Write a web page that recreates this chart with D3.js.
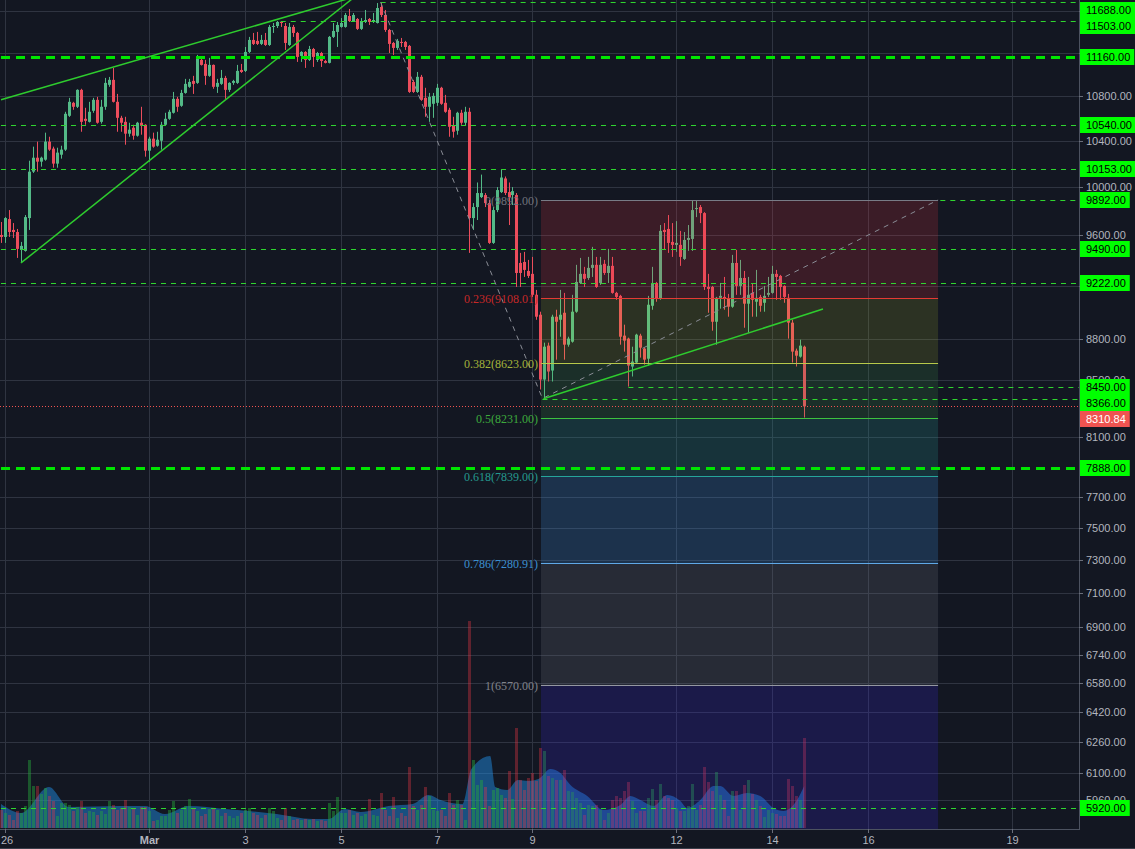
<!DOCTYPE html>
<html>
<head>
<meta charset="utf-8">
<script src="https://cdn.jsdelivr.net/npm/d3@7"></script>
<style>
html, body { margin: 0; padding: 0; background: #131722; }
svg { display: block; }
</style>
</head>
<body>
<div id="main"></div>
<script>
// 2-hour candles starting Feb 25 2018 22:00 UTC
var startTime = Date.UTC(2018, 1, 25, 22);
var barMs = 2 * 3600 * 1000;

// [open, high, low, close]
var ohlc = [
  [9604,9710,9540,9588],[9588,9750,9540,9742],[9734,9808,9588,9628],[9645,9701,9580,9628],[9628,9653,9420,9492],
  [9484,9548,9380,9516],[9476,9767,9470,9750],[9742,10225,9645,10131],[10131,10347,10120,10251],[10251,10391,10131,10217],
  [10217,10260,10174,10251],[10234,10470,10225,10391],[10391,10434,10310,10321],[10330,10347,10165,10200],[10200,10338,10165,10295],
  [10277,10355,10243,10321],[10321,10656,10310,10638],[10620,10782,10610,10746],[10737,10746,10674,10701],[10701,10860,10690,10855],
  [10855,10865,10478,10566],[10593,10692,10540,10575],[10566,10746,10560,10656],[10665,10782,10647,10764],[10764,10791,10550,10558],
  [10566,10764,10550,10701],[10701,10965,10674,10919],[10901,10974,10883,10947],[10947,11058,10740,10746],[10746,10818,10478,10602],
  [10602,10620,10478,10558],[10566,10611,10364,10461],[10461,10558,10434,10496],[10514,10540,10408,10443],[10443,10566,10435,10558],
  [10558,10701,10452,10531],[10540,10545,10260,10312],[10312,10434,10217,10417],[10417,10470,10338,10347],[10355,10478,10347,10408],
  [10399,10566,10321,10540],[10540,10647,10531,10593],[10593,10674,10584,10656],[10647,10836,10640,10773],[10773,10791,10656,10701],
  [10710,10855,10701,10827],[10827,10956,10820,10910],[10883,10956,10874,10928],[10937,10984,10818,10910],[10919,11180,10910,11142],
  [11133,11161,11080,11086],[11095,11133,10901,10984],[10984,11152,10975,11086],[11086,11090,10865,10883],[10883,10956,10827,10919],
  [10910,11039,10901,10965],[10965,10984,10773,10855],[10855,10925,10836,10919],[10919,10947,10901,10937],[10919,11086,10910,11030],
  [11039,11095,11011,11020],[11030,11255,11020,11208],[11208,11351,11198,11322],[11322,11389,11274,11284],[11313,11399,11274,11284],
  [11284,11370,11274,11322],[11322,11389,11265,11274],[11274,11466,11265,11447],[11447,11485,11389,11456],[11456,11504,11437,11495],
  [11495,11504,11447,11485],[11456,11485,11227,11293],[11274,11485,11265,11447],[11447,11466,11351,11389],[11389,11399,11114,11161],
  [11170,11215,11114,11208],[11208,11215,11058,11133],[11133,11265,11123,11236],[11236,11246,11067,11161],[11133,11208,11114,11198],
  [11198,11208,11067,11123],[11123,11133,11100,11105],[11105,11360,11100,11351],[11351,11485,11341,11408],[11399,11495,11255,11466],
  [11447,11533,11440,11485],[11447,11582,11440,11563],[11553,11622,11495,11504],[11504,11582,11495,11563],[11524,11533,11418,11428],
  [11428,11533,11418,11504],[11495,11612,11485,11514],[11524,11533,11466,11495],[11495,11582,11485,11514],[11485,11680,11480,11631],
  [11641,11688,11543,11563],[11563,11612,11399,11418],[11418,11428,11198,11284],[11293,11303,11180,11246],[11246,11332,11227,11313],
  [11303,11341,11255,11293],[11303,11313,11227,11255],[11265,11274,10827,10836],[10928,10947,10827,10836],[10836,11020,10827,10975],
  [10975,10993,10755,10764],[10782,10874,10611,10701],[10701,10827,10566,10791],[10728,10827,10602,10800],[10737,10910,10710,10874],
  [10874,10883,10719,10728],[10737,10809,10647,10656],[10674,10692,10434,10522],[10531,10611,10426,10478],[10487,10656,10452,10647],
  [10647,10674,10540,10558],[10558,10701,10531,10656],[10656,10692,9460,9742],[9742,9866,9645,9833],[9833,10039,9726,9950],
  [9916,10106,9908,9950],[9933,9950,9833,9866],[9866,9891,9532,9540],[9540,9833,9532,9808],[9808,10000,9791,9975],
  [9958,10148,9950,10081],[10073,10090,9933,9950],[9958,10039,9685,9916],[9933,10000,9850,9966],[9933,9950,9192,9301],
  [9380,9460,9192,9301],[9388,9468,9270,9325],[9317,9404,9262,9278],[9294,9428,9115,9131],[9131,9169,8941,8964],
  [8979,9002,8430,8501],[8501,8770,8373,8740],[8748,8770,8487,8559],[8566,8979,8487,8964],[8964,9017,8645,8926],
  [8941,9169,8814,8979],[8994,9146,8645,8755],[8755,8814,8740,8800],[8777,9131,8770,9002],[9002,9365,8994,9231],
  [9223,9420,9215,9294],[9294,9349,9192,9255],[9262,9428,9247,9341],[9341,9508,9270,9365],[9365,9428,9185,9192],
  [9223,9428,9208,9365],[9373,9404,9286,9301],[9301,9492,9223,9357],[9357,9428,9140,9146],[9146,9154,9093,9115],
  [9123,9131,8755,8814],[8822,8904,8704,8785],[8800,8807,8451,8602],[8595,8740,8523,8631],[8624,8836,8620,8829],
  [8822,8836,8660,8733],[8726,8733,8609,8645],[8652,9123,8602,9055],[9047,9349,9017,9223],[9223,9231,9078,9100],
  [9100,9685,9093,9637],[9645,9701,9484,9628],[9653,9767,9460,9540],[9548,9701,9428,9524],[9524,9717,9468,9540],
  [9524,9637,9357,9428],[9412,9628,9404,9564],[9564,9685,9476,9580],[9572,9891,9476,9808],[9816,9883,9750,9825],
  [9833,9850,9701,9783],[9783,9791,9169,9192],[9192,9294,8994,9177],[9192,9200,8859,8926],[8926,9115,8755,9108],
  [9108,9223,9025,9123],[9115,9270,9017,9100],[9100,9138,8964,9040],[9040,9444,9032,9380],[9380,9484,9131,9200],
  [9200,9404,9131,9262],[9262,9317,8881,9063],[9063,9270,8844,9131],[9146,9215,8964,9093],[9078,9325,8964,9108],
  [9115,9131,9002,9047],[9070,9200,9002,9123],[9131,9270,9115,9146],[9146,9357,9140,9294],[9294,9325,9093,9270],
  [9278,9286,9093,9192],[9200,9205,9070,9115],[9108,9138,8800,8919],[8919,8941,8624,8704],[8711,8726,8595,8674],
  [8667,8792,8660,8748],[8740,8748,8233,8310.84]
];

// volume per candle (BTC)
var volumes = [
  900,750,650,400,850,750,1100,3400,2100,2100,
  1700,2000,1600,1350,600,1250,1250,1150,850,1050,
  1350,750,850,800,650,850,700,1350,1150,900,
  1000,1400,1050,950,650,1050,1050,850,350,400,
  600,600,900,1350,750,900,1100,1450,950,850,
  600,700,950,1000,900,600,750,600,500,600,
  750,900,1000,750,650,500,650,1000,850,500,
  400,1000,600,400,450,400,450,400,450,350,
  400,350,1250,850,1550,750,750,900,650,750,
  600,700,1450,650,600,1750,900,600,1550,500,
  750,600,3050,1100,900,1150,2050,1600,900,850,
  900,600,1750,1150,1400,1150,400,10350,3400,2150,
  2400,2050,1100,1900,2000,1650,1500,2850,1450,5000,
  2400,1900,2500,2750,2350,4000,3850,2600,2500,2400,
  2400,2900,1850,1800,1500,1250,650,1150,1100,1150,
  900,400,750,1400,1600,1500,1850,2300,1350,750,
  850,850,1500,1950,1400,2200,1600,1500,1400,1000,
  850,850,1100,2200,900,1150,3050,2300,1850,2800,
  1650,1400,600,1850,1850,900,2150,2400,1700,1400,
  1100,550,900,750,700,600,600,2450,2100,1600,
  1400,4500
];

// volume moving average, read at bar indexes
var maIdx = [0,5,12,17,30,36,41,47,56,69,78,82,86,90,97,103,107,110,115.5,117.7,122.4,123.7,126.7,129.3,132,134.5,
  137.5,140,142.5,146.7,150.8,155,157.5,160,163.3,166.7,170,171.7,175,178.3,180,183.3,186.7,190,193.3,195.8,199.2,201];
var maVol = [1200,750,2050,1050,1100,1100,700,1100,950,700,450,450,950,800,1100,1200,1650,1400,1200,2950,3600,2050,1900,2400,2350,2450,
  2950,2750,2150,1600,900,1150,1600,1400,1100,1650,1350,1000,1400,2100,2100,1600,1750,1600,1000,850,1400,2100];

// y axis tick values (log scale)
var priceTicks = [11600,11200,10800,10400,10000,9600,9200,8800,8500,8100,7700,7500,7300,7100,6900,6740,6580,6420,6260,6100,5960];

// horizontal rays drawn on the chart
var levelPrices = [11688,11503,11160,10540,10153,9892,9490,9222,8450,8366,7888,5920];
var levelStart  = [95,70,0,0,0,172.5,0,0,157,135.5,0,0];
var levelThick  = [false,false,true,false,false,false,false,false,false,false,true,false];

var lastPrice = 8310.84;

// trend-based fib extension: A -> B -> C
var fibPoints = [[95,11688],[135.5,8366],[234.5,9892]];
var fibRatios = ["0","0.236","0.382","0.5","0.618","0.786","1"];
var fibPrices = [9892,9108.01,8623,8231,7839,7280.91,6570];
var fibNext = 4517; // 1.618 level, below the view
var fibLine  = ["#787b86","#e53935","#b8c94a","#3ec23e","#26a69a","#5fa8e6","#9598a1"];
var fibLabel = ["#6f727c","#c62828","#a3b23a","#3daa3d","#25998f","#3b8fd0","#80838c"];
var fibFill  = ["rgba(242,54,69,0.18)","rgba(200,220,40,0.14)","rgba(76,175,80,0.16)","rgba(38,166,154,0.2)",
                "rgba(64,160,246,0.2)","rgba(120,123,134,0.2)","rgba(60,40,230,0.2)"];

// trend lines [[bar, price],[bar, price]]
var trendLines = [
  [[0,10764],[100,11875]],
  [[5,9380],[95,11948]],
  [[135.75,8364],[205.7,9022]]
];

var dateTicks = [Date.UTC(2018,1,26),Date.UTC(2018,2,1),Date.UTC(2018,2,3),Date.UTC(2018,2,5),Date.UTC(2018,2,7),
  Date.UTC(2018,2,9),Date.UTC(2018,2,12),Date.UTC(2018,2,14),Date.UTC(2018,2,16),Date.UTC(2018,2,19)];
var dateLabels = ["26","Mar","3","5","7","9","12","14","16","19"];

var width = 1135, height = 849;
var plotW = 1079, plotH = 829;
var upColor = "#53b987", downColor = "#eb4d5c";
var gridColor = "#2f3441";
var axisText = "#b2b5be";

var svg = d3.select("#main").append("svg").attr("width", width).attr("height", height);
svg.append("rect").attr("width", width).attr("height", height).attr("fill", "#131722");

var x = d3.scaleUtc().domain([Date.UTC(2018,1,26), Date.UTC(2018,2,19)]).range([5, 1012]);
var y = d3.scaleLog().domain([5823, 11710]).range([828, 0]);
var yVol = d3.scaleLinear().domain([0, 17500]).range([828, 478]);
function bx(i) { return x(new Date(startTime + i * barMs)); }

svg.append("defs").append("clipPath").attr("id", "plot")
  .append("rect").attr("width", plotW).attr("height", plotH);

// grid
var grid = svg.append("g").attr("clip-path", "url(#plot)");
dateTicks.forEach(function (t) {
  var px = Math.round(x(t)) + 0.5;
  grid.append("line").attr("x1", px).attr("x2", px).attr("y1", 0).attr("y2", plotH)
    .attr("stroke", gridColor).attr("stroke-width", 1);
});
priceTicks.forEach(function (p) {
  var py = Math.round(y(p)) + 0.5;
  grid.append("line").attr("x1", 0).attr("x2", plotW).attr("y1", py).attr("y2", py)
    .attr("stroke", gridColor).attr("stroke-width", 1);
});

var chart = svg.append("g").attr("clip-path", "url(#plot)");

// volume MA area
var area = d3.area()
  .x(function (d) { return bx(d[0]); })
  .y0(yVol(0))
  .y1(function (d) { return yVol(d[1]); })
  .curve(d3.curveMonotoneX);
chart.append("path").datum(maIdx.map(function (v, k) { return [v, maVol[k]]; }))
  .attr("d", area).attr("fill", "rgba(33,150,243,0.45)");

// volume bars
chart.selectAll(".vol").data(volumes).enter().append("rect")
  .attr("x", function (d, i) { return Math.round(bx(i)) - 1; })
  .attr("width", 3)
  .attr("y", function (d) { return yVol(d); })
  .attr("height", function (d) { return yVol(0) - yVol(d); })
  .attr("fill", function (d, i) {
    return ohlc[i][3] >= ohlc[i][0] ? "rgba(38,166,60,0.45)" : "rgba(242,54,69,0.35)";
  });

// candles
var candles = chart.selectAll(".candle").data(ohlc).enter().append("g");
candles.append("rect")
  .attr("x", function (d, i) { return Math.round(bx(i)); })
  .attr("width", 1)
  .attr("y", function (d) { return y(d[1]); })
  .attr("height", function (d) { return Math.max(1, y(d[2]) - y(d[1])); })
  .attr("fill", function (d) { return d[3] >= d[0] ? upColor : downColor; });
candles.append("rect")
  .attr("x", function (d, i) { return Math.round(bx(i)) - 1; })
  .attr("width", 3)
  .attr("y", function (d) { return y(Math.max(d[0], d[3])); })
  .attr("height", function (d) { return Math.max(1, Math.abs(y(d[0]) - y(d[3]))); })
  .attr("fill", function (d) { return d[3] >= d[0] ? upColor : downColor; });

// fib fills
var fibX0 = bx(fibPoints[1][0]) - 1.5, fibX1 = bx(fibPoints[2][0]);
var fibBounds = fibPrices.concat([fibNext]);
for (var k = 0; k < fibPrices.length; k++) {
  chart.append("rect").attr("x", fibX0).attr("width", fibX1 - fibX0)
    .attr("y", y(fibBounds[k])).attr("height", y(fibBounds[k + 1]) - y(fibBounds[k]))
    .attr("fill", fibFill[k]);
}

// horizontal rays
levelPrices.forEach(function (p, k) {
  var py = Math.round(y(p)) + 0.5;
  chart.append("line").attr("x1", bx(levelStart[k])).attr("x2", plotW).attr("y1", py).attr("y2", py)
    .attr("stroke", levelThick[k] ? "#00e600" : "#2fd62f")
    .attr("stroke-width", levelThick[k] ? 3 : 1)
    .attr("stroke-dasharray", levelThick[k] ? "9,6" : "5,5");
});

// fib path A-B-C
var line = d3.line().x(function (d) { return bx(d[0]); }).y(function (d) { return y(d[1]); });
chart.append("path").datum(fibPoints).attr("d", line).attr("fill", "none")
  .attr("stroke", "#8a8d96").attr("stroke-width", 1).attr("stroke-dasharray", "5,5");

// fib level lines and labels
fibPrices.forEach(function (p, k) {
  var py = Math.round(y(p)) + 0.5;
  chart.append("line").attr("x1", fibX0).attr("x2", fibX1).attr("y1", py).attr("y2", py)
    .attr("stroke", fibLine[k]).attr("stroke-width", 1);
  chart.append("text").attr("x", fibX0 - 3).attr("y", py).attr("dy", "0.35em")
    .attr("text-anchor", "end")
    .style("font-family", "'Liberation Serif', 'DejaVu Serif', serif").style("font-size", "12px")
    .attr("fill", fibLabel[k])
    .text(fibRatios[k] + "(" + d3.format(".2f")(p) + ")");
});

// trend lines
trendLines.forEach(function (t) {
  chart.append("path").datum(t).attr("d", line).attr("fill", "none")
    .attr("stroke", "#2ecc2e").attr("stroke-width", 1.5);
});

// last price line
var lpY = Math.round(y(lastPrice)) + 0.5;
chart.append("line").attr("x1", 0).attr("x2", plotW).attr("y1", lpY).attr("y2", lpY)
  .attr("stroke", "#ef5350").attr("stroke-width", 1).attr("stroke-dasharray", "1,2");

// axes frame
svg.append("line").attr("x1", plotW + 0.5).attr("x2", plotW + 0.5).attr("y1", 0).attr("y2", plotH + 1)
  .attr("stroke", "#4c5260");
svg.append("line").attr("x1", 0).attr("x2", plotW + 1).attr("y1", plotH + 0.5).attr("y2", plotH + 0.5)
  .attr("stroke", "#4c5260");
svg.append("line").attr("x1", 0).attr("x2", width).attr("y1", height - 0.5).attr("y2", height - 0.5)
  .attr("stroke", "#3a3e4a");

var fmt = d3.format(".2f");
var font = "'Liberation Sans', Arial, sans-serif";

// level labels with simple overlap avoidance
var labels = levelPrices.map(function (p) { return { p: p, bg: "#00ff00", fg: "#000" }; });
labels.push({ p: lastPrice, bg: "#ef5350", fg: "#fff" });
labels.sort(function (a, b) { return b.p - a.p; });
var prevY = -100;
labels.forEach(function (l) {
  var ly = Math.max(10, y(l.p));
  if (ly < prevY + 16) ly = prevY + 16;
  prevY = ly;
  l.y = ly;
});

// right axis ticks (labels fully covered by a level label are not drawn)
var yAxis = svg.append("g");
priceTicks.forEach(function (p) {
  var py = Math.round(y(p)) + 0.5;
  yAxis.append("line").attr("x1", plotW).attr("x2", plotW + 4).attr("y1", py).attr("y2", py).attr("stroke", "#6a6e7a");
  var covered = labels.some(function (l) { return Math.abs(l.y - py) < 6; });
  if (covered) return;
  yAxis.append("text").attr("x", 1086).attr("y", py).attr("dy", "0.35em")
    .style("font-family", font).style("font-size", "11px").attr("fill", axisText).text(fmt(p));
});

labels.forEach(function (l) {
  var g = yAxis.append("g");
  var box = g.append("rect").attr("x", plotW + 1).attr("y", Math.round(l.y) - 8).attr("height", 16).attr("fill", l.bg);
  var t = g.append("text").attr("x", 1086).attr("y", Math.round(l.y)).attr("dy", "0.35em")
    .style("font-family", font).style("font-size", "11px").attr("fill", l.fg).text(fmt(l.p));
  box.attr("width", t.node().getComputedTextLength() + 10);
});

// bottom axis
var xAxis = svg.append("g");
dateTicks.forEach(function (t, k) {
  var px = Math.round(x(t)) + 0.5;
  xAxis.append("line").attr("x1", px).attr("x2", px).attr("y1", plotH).attr("y2", plotH + 4).attr("stroke", "#6a6e7a");
  xAxis.append("text").attr("x", Math.max(px, 7)).attr("y", 844).attr("text-anchor", "middle")
    .style("font-family", font).style("font-size", "11px")
    .style("font-weight", dateLabels[k] === "Mar" ? "bold" : "normal")
    .attr("fill", axisText).text(dateLabels[k]);
});
</script>
</body>
</html>
